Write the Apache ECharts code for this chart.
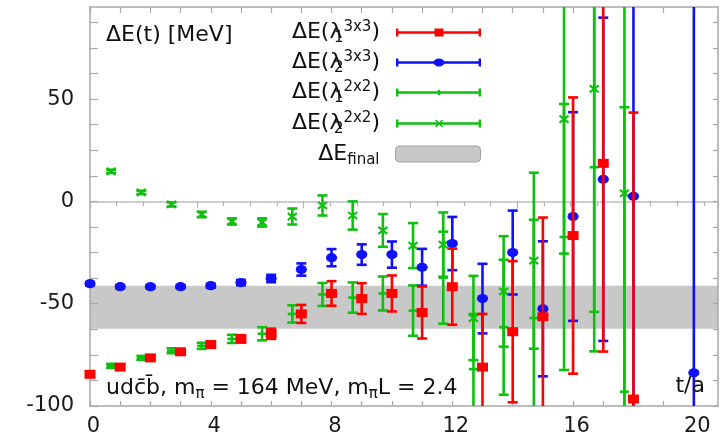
<!DOCTYPE html>
<html><head><meta charset="utf-8">
<script src="https://cdn.jsdelivr.net/npm/echarts@6/dist/echarts.min.js"></script>
<style>html,body{margin:0;padding:0;background:#fff}#c{width:721px;height:437px}</style>
</head><body><div id="c"></div>
<script>
// ---- data ----
const tRed = [0,1,2,3,4,5,6,7,8,9,10,11,12,13,14,15,16,17,18];
const redVal = [-84.5,-81,-76.5,-73.5,-70,-67.2,-64.7,-55,-45,-47.5,-45,-54.3,-41.7,-81,-63.7,-56.4,-16.7,18.6,-96.6];
const redErr = [1,1,1,1,1.5,1.8,2.5,4.4,6,7.5,8.8,12.7,18.6,26,34.5,48.5,67.5,92,140];

const tBlue = [0,1,2,3,4,5,6,7,8,9,10,11,12,13,14,15,16,17,18,20];
const blueVal = [-40.2,-41.7,-41.7,-41.7,-41.2,-39.7,-37.7,-33.3,-27.5,-26,-26,-32.2,-20.6,-47.5,-25,-52.5,-7.4,10.8,2.5,-83.8];
const blueErr = [0.8,0.8,0.8,0.8,1,1.3,1.8,3,4.2,5,6.4,9,13,17,20.5,33,51,79,130,220];

const tGreen = [0.7,1.7,2.7,3.7,4.7,5.7,6.7,7.7,8.7,9.7,10.7,11.7,12.7,13.7,14.7,15.7,16.7,17.7];
const g1Val = [-80.4,-76.5,-73,-70.6,-67.2,-64.7,-55,-45.5,-47,-45,-53.4,-37.3,-82,-61.5,-57,-17.4,16.7,-93];
const g1Err = [1,1,1.2,1.5,2,3.2,4.2,5.6,7.4,8.3,12.3,22.5,27,33,48,65,90,139];
const g2Val = [14.7,4.4,-1.5,-6.4,-9.8,-10.3,-7.4,-2,-6.9,-14.2,-21.6,-21.1,-57,-44,-29,40.2,55,3.9];
const g2Err = [0.8,0.8,1,1.3,1.5,2,3.9,4.9,6.9,8,11,15.7,20.6,27,43,65.7,109,150];

const finalBand = [-62.3, -41.2];

const xLabelVals = [0,4,8,12,16,20];
const xTickVals = [0,1,2,3,4,5,6,7,8,9,10,11,12,13,14,15,16,17,18,19,20];
const yLabelVals = [-100,-50,0,50];
const yTickVals = [-100,-87.5,-75,-62.5,-50,-37.5,-25,-12.5,0,12.5,25,37.5,50,62.5,75,87.5];

// ---- style ----
const FONT = 'DejaVu Sans';
const RED = '#ff0000', BLUE = '#1010ff', GREEN = '#10c010', BAND = '#c8c8c8';
const AX = '#a8a8a8';

function ebData(xs, vs, es) { return xs.map((x, i) => [x, vs[i], es[i]]); }

function makeRender(kind) {
  return function (params, api) {
    const color = api.visual('color');
    const cs = params.coordSys;
    const x = api.value(0), y = api.value(1), e = api.value(2);
    const c = api.coord([x, y]);
    const yTop = api.coord([x, y + e])[1];
    const yBot = api.coord([x, y - e])[1];
    const top = Math.max(yTop, cs.y), bot = Math.min(yBot, cs.y + cs.height);
    const st = {stroke: color, lineWidth: 2.6};
    const ch = [{type: 'line', shape: {x1: c[0], y1: top, x2: c[0], y2: bot}, style: st}];
    if (yTop >= cs.y) ch.push({type: 'line', shape: {x1: c[0] - 5, y1: yTop, x2: c[0] + 5, y2: yTop}, style: st});
    if (yBot <= cs.y + cs.height) ch.push({type: 'line', shape: {x1: c[0] - 5, y1: yBot, x2: c[0] + 5, y2: yBot}, style: st});
    if (kind === 'square') {
      ch.push({type: 'rect', shape: {x: c[0] - 5.5, y: c[1] - 4.5, width: 11, height: 9}, style: {fill: color}});
    } else if (kind === 'circle') {
      ch.push({type: 'circle', x: c[0], y: c[1], scaleY: 0.82, shape: {cx: 0, cy: 0, r: 5.6}, style: {fill: color}});
    } else if (kind === 'plus') {
      ch.push({type: 'line', shape: {x1: c[0] - 4.5, y1: c[1], x2: c[0] + 4.5, y2: c[1]}, style: st});
    } else if (kind === 'cross') {
      const s2 = {stroke: color, lineWidth: 2.2};
      ch.push({type: 'line', shape: {x1: c[0] - 4.5, y1: c[1] - 3.5, x2: c[0] + 4.5, y2: c[1] + 3.5}, style: s2});
      ch.push({type: 'line', shape: {x1: c[0] - 4.5, y1: c[1] + 3.5, x2: c[0] + 4.5, y2: c[1] - 3.5}, style: s2});
    }
    return {type: 'group', children: ch};
  };
}

function bandRender(params, api) {
  const cs = params.coordSys;
  const y1 = api.coord([0, api.value(2)])[1];
  const y2 = api.coord([0, api.value(1)])[1];
  return {type: 'rect', shape: {x: cs.x, y: y1, width: cs.width, height: y2 - y1}, style: {fill: api.visual('color')}};
}

// legend icons (85 x 8 box, centre y = 4)
const BAR = 'M0 2.8L85 2.8L85 5.2L0 5.2Z M0 0L2.4 0L2.4 8L0 8Z M82.6 0L85 0L85 8L82.6 8Z';
const ICON_SQ = 'path://' + BAR + ' M38.5 0L47.5 0L47.5 8L38.5 8Z';
const ICON_CI = 'path://' + BAR + ' M37.5 4A5.5 4 0 1 1 48.5 4A5.5 4 0 1 1 37.5 4Z';
const ICON_PL = 'path://' + BAR + ' M41.8 1.2L44.2 1.2L44.2 6.8L41.8 6.8Z';
const ICON_CR = 'path://' + BAR + ' M39 0.9L40.2 0L47 7.1L45.8 8Z M45.8 0L47 0.9L40.2 8L39 7.1Z';

const RICH = {
  t: {fontFamily: FONT, fontSize: 22, lineHeight: 24, color: '#111'},
  p: {fontFamily: FONT, fontSize: 15, lineHeight: 24, height: 14, verticalAlign: 'top', color: '#111'},
  b: {fontFamily: FONT, fontSize: 15, lineHeight: 24, height: 12, width: 1, verticalAlign: 'bottom', color: '#111'},
  s: {fontFamily: FONT, fontSize: 15, lineHeight: 24, height: 12, verticalAlign: 'bottom', color: '#111'}
};
const legendLabels = {
  'l13': '{t|ΔE(λ}{b|1}{p|3x3}{t|)}',
  'l23': '{t|ΔE(λ}{b|2}{p|3x3}{t|)}',
  'l12': '{t|ΔE(λ}{b|1}{p|2x2}{t|)}',
  'l22': '{t|ΔE(λ}{b|2}{p|2x2}{t|)}',
  'final': '{t|ΔE}{s|final}'
};
function mkLegend(name, icon, rowY, h, extra) {
  const item = Object.assign({name: name, icon: icon}, extra || {});
  return {
    data: [item], right: 240, top: rowY - 12, padding: 0,
    itemWidth: 85, itemHeight: h, align: 'right', orient: 'vertical',
    selectedMode: false,
    formatter: (n) => legendLabels[n],
    textStyle: {fontFamily: FONT, fontSize: 22, color: '#111', lineHeight: 24, padding: [0, 11, 0, 0], rich: RICH}
  };
}

const labelStyle = {fontFamily: FONT, fontSize: 21, color: '#1a1a1a'};

const option = {
  animation: false,
  backgroundColor: '#fff',
  grid: {left: 90, right: 3, top: 7, bottom: 31, containLabel: false},
  xAxis: [
    {type: 'value', position: 'bottom', min: 0, max: 20.8, z: 1,
     axisLine: {onZero: false, lineStyle: {color: AX, width: 1.5}},
     axisTick: {inside: true, length: 5, customValues: xTickVals, lineStyle: {color: AX, width: 1.2}},
     axisLabel: Object.assign({customValues: xLabelVals, margin: 10, padding: [0, 0, 0, 7]}, labelStyle),
     splitLine: {show: false}},
    {type: 'value', position: 'top', min: 0, max: 20.8, z: 1,
     axisLine: {onZero: false, lineStyle: {color: AX, width: 1.5}},
     axisTick: {inside: true, length: 6, customValues: xTickVals, lineStyle: {color: AX, width: 1.2}},
     axisLabel: {show: false}, splitLine: {show: false}},
    {type: 'value', position: 'bottom', min: 0, max: 23.52, interval: 4, z: 1,
     axisLine: {onZero: true, onZeroAxisIndex: 0, lineStyle: {color: '#b4b4b4', width: 1.5, type: 'dotted'}},
     axisTick: {inside: false, length: 7, lineStyle: {color: '#b4b4b4', width: 1.2}},
     minorTick: {show: true, splitNumber: 4, length: 5, lineStyle: {color: '#b4b4b4', width: 1.2}},
     axisLabel: {show: false}, splitLine: {show: false}}
  ],
  yAxis: [
    {type: 'value', position: 'left', min: -100, max: 95, z: 1,
     axisLine: {onZero: false, lineStyle: {color: AX, width: 1.5}},
     axisTick: {inside: true, length: 8, customValues: yTickVals, lineStyle: {color: AX, width: 1.2}},
     axisLabel: Object.assign({customValues: yLabelVals, margin: 16}, labelStyle),
     splitLine: {show: false}},
    {type: 'value', position: 'right', min: -100, max: 95, z: 1,
     axisLine: {onZero: false, lineStyle: {color: AX, width: 1.5}},
     axisTick: {inside: true, length: 5, customValues: yTickVals, lineStyle: {color: AX, width: 1.2}},
     axisLabel: {show: false}, splitLine: {show: false}}
  ],
  legend: [
    mkLegend('l13', ICON_SQ, 32, 8),
    mkLegend('l23', ICON_CI, 62, 8),
    mkLegend('l12', ICON_PL, 92, 8),
    mkLegend('l22', ICON_CR, 123, 8),
    mkLegend('final', 'roundRect', 154, 16, {itemStyle: {borderColor: '#a0a0a0', borderWidth: 1}})
  ],
  series: [
    {type: 'custom', name: 'final', z: 0, silent: true, itemStyle: {color: BAND},
     renderItem: bandRender, data: [[0, finalBand[0], finalBand[1]]], encode: {x: 0, y: [1, 2]}},
    {type: 'custom', name: 'l22', z: 2, itemStyle: {color: GREEN}, renderItem: makeRender('cross'),
     data: ebData(tGreen, g2Val, g2Err), encode: {x: 0, y: 1}},
    {type: 'custom', name: 'l12', z: 2, itemStyle: {color: GREEN}, renderItem: makeRender('plus'),
     data: ebData(tGreen, g1Val, g1Err), encode: {x: 0, y: 1}},
    {type: 'custom', name: 'l23', z: 2, itemStyle: {color: BLUE}, renderItem: makeRender('circle'),
     data: ebData(tBlue, blueVal, blueErr), encode: {x: 0, y: 1}},
    {type: 'custom', name: 'l13', z: 2, itemStyle: {color: RED}, renderItem: makeRender('square'),
     data: ebData(tRed, redVal, redErr), encode: {x: 0, y: 1}}
  ],
  graphic: [
    {type: 'text', x: 106, y: 35, z: 10,
     style: {text: 'ΔE(t) [MeV]', fontFamily: FONT, fontSize: 22, fill: '#111', verticalAlign: 'middle'}},
    {type: 'text', x: 106, y: 388, z: 10,
     style: {text: '{m|udc\u0304b\u0304, m}{s|π}{m| = 164 MeV, m}{s|π}{m|L = 2.4}', verticalAlign: 'middle',
       fontFamily: FONT, fontSize: 22, fill: '#111',
       rich: {m: {fontFamily: FONT, fontSize: 22, lineHeight: 24, fill: '#111'},
              s: {fontFamily: FONT, fontSize: 15, lineHeight: 24, height: 12, verticalAlign: 'bottom', fill: '#111'}}}},
    {type: 'text', x: 705, y: 386, z: 10,
     style: {text: 't/a', fontFamily: FONT, fontSize: 22, fill: '#111', align: 'right', verticalAlign: 'middle'}}
  ]
};
const chart = echarts.init(document.getElementById('c'));
chart.setOption(option);
</script>
</body></html>
